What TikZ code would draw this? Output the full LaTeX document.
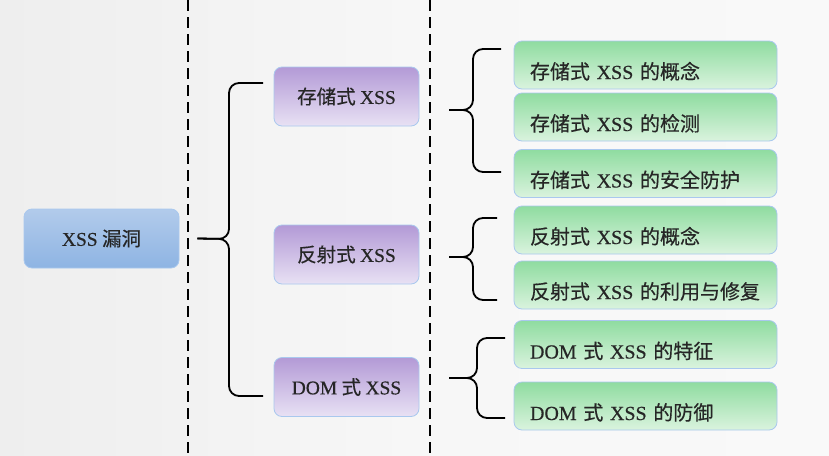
\documentclass[tikz,border=0pt]{standalone}
\usepackage{fontspec}
\setmainfont{Noto Sans CJK SC}[FakeBold=0.4]
\newfontfamily\latin{Liberation Serif}[FakeBold=0.4]
\newcommand{\xss}{{\latin XSS}}
\newcommand{\dom}{{\latin DOM}}
\definecolor{bgL}{HTML}{D7D7D7}
\definecolor{bgM}{HTML}{EEEEEE}
\definecolor{bgN}{HTML}{F7F7F7}
\definecolor{bgR}{HTML}{FBFBFB}
\definecolor{edge}{HTML}{A9C8EE}
\definecolor{ink}{HTML}{262626}
\definecolor{blueT}{HTML}{B2CBEB}
\definecolor{blueB}{HTML}{8EB4E3}
\definecolor{purT}{HTML}{B39AD6}
\definecolor{purB}{HTML}{E8E1F4}
\definecolor{grnT}{HTML}{8FDCA0}
\definecolor{grnB}{HTML}{DAF3DE}
\pgfdeclarehorizontalshading{bgfade}{100bp}{color(0bp)=(bgL); color(25bp)=(bgM);
  color(50bp)=(bgN); color(100bp)=(bgR)}
\begin{document}
\begin{tikzpicture}[x=1pt, y=-1pt,
    box/.style = {draw=edge, line width=.8pt, rounded corners=8pt, text=ink},
    topic/.style = {box, top color=blueT, bottom color=blueB,
      minimum width=155pt, minimum height=59pt, font=\fontsize{19.5}{21}\selectfont},
    kind/.style = {box, top color=purT, bottom color=purB,
      minimum width=145pt, minimum height=59pt, font=\fontsize{19.5}{21}\selectfont},
    leaf/.style = {box, top color=grnT, bottom color=grnB, inner xsep=16pt, inner ysep=0pt,
      text width=231pt, align=left, text height=38pt, text depth=10pt,
      font=\fontsize{20}{22}\selectfont},
    brace/.style = {line width=1.8pt, rounded corners=10pt},
    divider/.style = {line width=2.7pt, dash pattern=on 11pt off 6pt}]
  \useasboundingbox (0,0) rectangle (829,455);
  \fill [shading=bgfade] (0,0) rectangle (829,455);
  \draw [divider] (188,0) -- (188,455);
  \draw [divider] (430,0) -- (430,455);

  \node [topic] (xss) at (101.5,238.5) {\xss{} 漏洞};
  \node [kind] (stored) at (346.5,96.5) {存储式 \xss};
  \node [kind] (reflect) at (346.5,254.5) {反射式 \xss};
  \node [kind] (dom) at (346.5,387) {\dom{} 式 \xss};

  \foreach \n/\y/\t in {s1/65/{存储式 \xss{} 的概念}, s2/117/{存储式 \xss{} 的检测},
      s3/173.5/{存储式 \xss{} 的安全防护}, r1/230/{反射式 \xss{} 的概念},
      r2/285/{反射式 \xss{} 的利用与修复}, d1/344.5/{\dom{} 式 \xss{} 的特征},
      d2/406/{\dom{} 式 \xss{} 的防御}}
    \node [leaf] (\n) at (645.5,\y) {\t};

  % brace ends, bends and tips
  \foreach \n/\x/\y in {a0/263/83, b0/263/396, k0/229/239,
      a1/501/49, b1/501/172, k1/473/110, t1/449/110,
      a2/497/218, b2/497/300, k2/473/257, t2/449/257,
      a3/505/338, b3/505/418, k3/477/378, t3/449/378}
    \coordinate (\n) at (\x,\y);
  \coordinate (t0) at ([xshift=18pt]xss.east);

  \foreach \i in {0,...,3} {
    \draw [brace] (a\i) -| (k\i) -- (t\i);
    \draw [brace] (b\i) -| (k\i) -- (t\i);
  }
\end{tikzpicture}
\end{document}
